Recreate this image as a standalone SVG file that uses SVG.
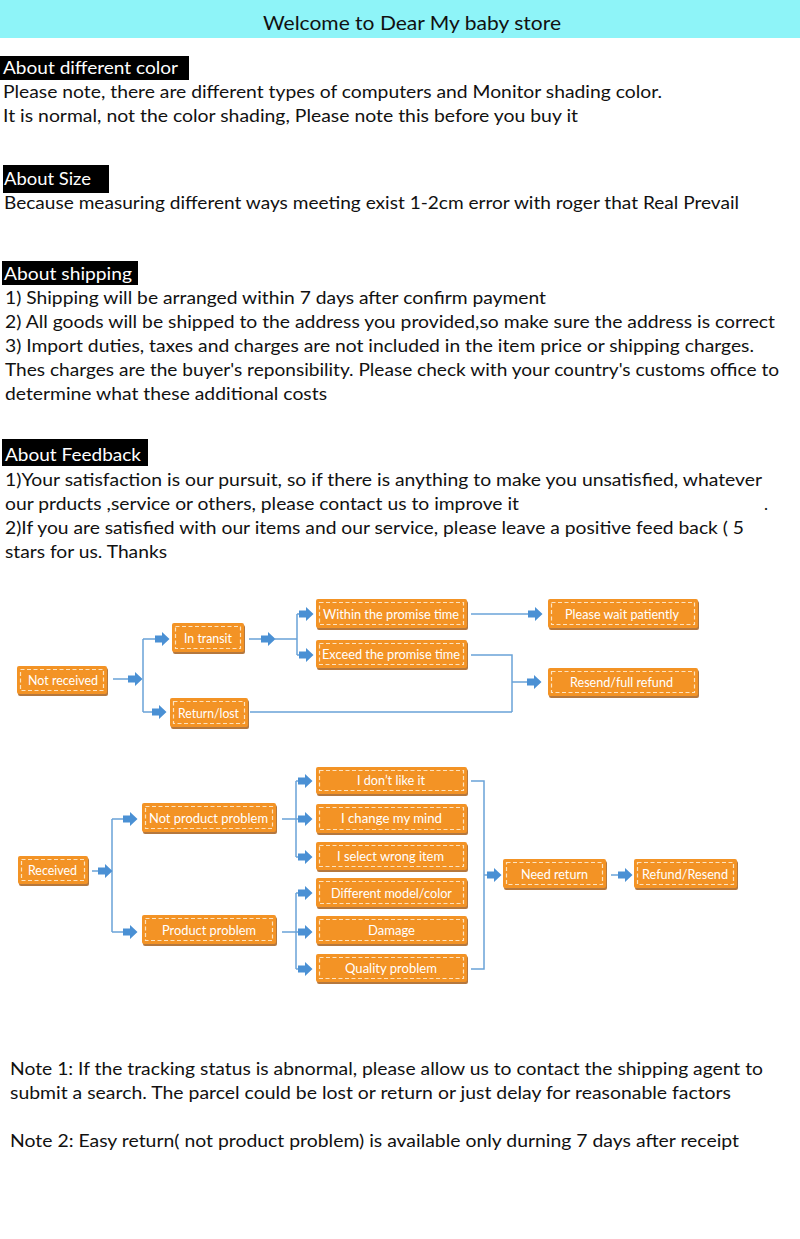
<svg xmlns="http://www.w3.org/2000/svg" xmlns:xlink="http://www.w3.org/1999/xlink" width="800" height="1239" viewBox="0 0 800 1239">
<style>
.body{font-family:"Lato","Liberation Sans",sans-serif;font-size:17px;fill:#111}
.lab{font-family:"Lato","Liberation Sans",sans-serif;font-size:17px;fill:#fff}
.labbox{fill:#000}
.shadow{fill:#a8601c;opacity:0.85}
.box{fill:#f39325}
.dash{fill:none;stroke:#fde3bf;stroke-width:1.2;stroke-dasharray:4 2.5}
.nt{font-family:"Lato","Liberation Sans",sans-serif;font-size:14px;fill:#fff;text-anchor:middle}
.ln{fill:none;stroke:#6aa3d8;stroke-width:1.5}
.ar{fill:#4a90d4}
</style>
<defs>
<path id="arr" d="M0,-3.5 H7 V-7 L14.5,0 L7,7 V3.5 H0 Z"/>
</defs>

<rect x="0" y="0" width="800" height="38" fill="#8ef4f8"/>
<text x="412" y="30" font-family="Lato,'Liberation Sans',sans-serif" font-size="20" fill="#111" text-anchor="middle" textLength="298" lengthAdjust="spacingAndGlyphs">Welcome to Dear My baby store</text>

<rect class="labbox" x="0" y="56" width="189" height="24"/>
<text class="lab" x="3" y="74" textLength="175" lengthAdjust="spacingAndGlyphs">About different color</text>
<text class="body" x="3" y="98" textLength="659" lengthAdjust="spacingAndGlyphs">Please note, there are different types of computers and Monitor shading color.</text>
<text class="body" x="3" y="122" textLength="575" lengthAdjust="spacingAndGlyphs">It is normal, not the color shading, Please note this before you buy it</text>

<rect class="labbox" x="3" y="165" width="106" height="28"/>
<text class="lab" x="4" y="185" textLength="87" lengthAdjust="spacingAndGlyphs">About Size</text>
<text class="body" x="4" y="209" textLength="735" lengthAdjust="spacingAndGlyphs">Because measuring different ways meeting exist 1-2cm error with roger that Real Prevail</text>

<rect class="labbox" x="2" y="261" width="136" height="24"/>
<text class="lab" x="4" y="280" textLength="128" lengthAdjust="spacingAndGlyphs">About shipping</text>
<text class="body" x="5" y="304" textLength="541" lengthAdjust="spacingAndGlyphs">1) Shipping will be arranged within 7 days after confirm payment</text>
<text class="body" x="5" y="328" textLength="770" lengthAdjust="spacingAndGlyphs">2) All goods will be shipped to the address you provided,so make sure the address is correct</text>
<text class="body" x="5" y="352" textLength="749" lengthAdjust="spacingAndGlyphs">3) Import duties, taxes and charges are not included in the item price or shipping charges.</text>
<text class="body" x="5" y="376" textLength="774" lengthAdjust="spacingAndGlyphs">Thes charges are the buyer's reponsibility. Please check with your country's customs office to</text>
<text class="body" x="5" y="400" textLength="322" lengthAdjust="spacingAndGlyphs">determine what these additional costs</text>

<rect class="labbox" x="2" y="439" width="146" height="27"/>
<text class="lab" x="5" y="461" textLength="136" lengthAdjust="spacingAndGlyphs">About Feedback</text>
<text class="body" x="5" y="486" textLength="757" lengthAdjust="spacingAndGlyphs">1)Your satisfaction is our pursuit, so if there is anything to make you unsatisfied, whatever</text>
<text class="body" x="5" y="510" textLength="514" lengthAdjust="spacingAndGlyphs">our prducts ,service or others, please contact us to improve it</text>
<text class="body" x="764" y="510">.</text>
<text class="body" x="5" y="534" textLength="739" lengthAdjust="spacingAndGlyphs">2)If you are satisfied with our items and our service, please leave a positive feed back ( 5</text>
<text class="body" x="5" y="558" textLength="162" lengthAdjust="spacingAndGlyphs">stars for us. Thanks</text>

<g id="connectors">
<path class="ln" d="M113,679 H130 M143,639 V712 M143,639 H156 M143,712 H153"/>
<path class="ln" d="M249,639 H263 M275,639 H297 M297,614 V655 M297,614 H300 M297,655 H300"/>
<path class="ln" d="M471,614 H529"/>
<path class="ln" d="M471,655 H512 V712 M250,712 H512 M512,682 H528"/>
<path class="ln" d="M92,871 H99 M112,819 V932 M112,819 H125 M112,932 H125"/>
<path class="ln" d="M282,819 H299 M296,781 V857 M296,781 H299 M296,857 H299"/>
<path class="ln" d="M282,932 H299 M296,893 V969 M296,893 H299 M296,969 H299"/>
<path class="ln" d="M471,781 H484 V969 H471 M484,875 H488"/>
<path class="ln" d="M611,875 H619"/>
<g class="ar">
<use xlink:href="#arr" x="128" y="679"/>
<use xlink:href="#arr" x="155" y="639"/>
<use xlink:href="#arr" x="152" y="712"/>
<use xlink:href="#arr" x="261" y="639"/>
<use xlink:href="#arr" x="299" y="614"/>
<use xlink:href="#arr" x="299" y="655"/>
<use xlink:href="#arr" x="528" y="614"/>
<use xlink:href="#arr" x="527" y="682"/>
<use xlink:href="#arr" x="98" y="871"/>
<use xlink:href="#arr" x="123" y="819"/>
<use xlink:href="#arr" x="123" y="932"/>
<use xlink:href="#arr" x="298" y="781"/>
<use xlink:href="#arr" x="298" y="819"/>
<use xlink:href="#arr" x="298" y="857"/>
<use xlink:href="#arr" x="298" y="893"/>
<use xlink:href="#arr" x="298" y="932"/>
<use xlink:href="#arr" x="298" y="969"/>
<use xlink:href="#arr" x="487" y="875"/>
<use xlink:href="#arr" x="618" y="875"/>
</g>
</g>

<g id="n-not-received"><rect class="shadow" x="18" y="668" width="90" height="28" rx="2"/><rect class="box" x="17" y="666" width="90" height="28" rx="2"/><rect class="dash" x="20.5" y="669.5" width="83" height="21"/><text class="nt" x="63" y="685" textLength="70" lengthAdjust="spacingAndGlyphs">Not received</text></g>
<g id="n-in-transit"><rect class="shadow" x="173" y="625" width="72" height="29" rx="2"/><rect class="box" x="172" y="623" width="72" height="29" rx="2"/><rect class="dash" x="175.5" y="626.5" width="65" height="22"/><text class="nt" x="208" y="643" textLength="48" lengthAdjust="spacingAndGlyphs">In transit</text></g>
<g id="n-return-lost"><rect class="shadow" x="171" y="700" width="78" height="29" rx="2"/><rect class="box" x="170" y="698" width="78" height="29" rx="2"/><rect class="dash" x="173.5" y="701.5" width="71" height="22"/><text class="nt" x="208.5" y="718" textLength="61" lengthAdjust="spacingAndGlyphs">Return/lost</text></g>
<g id="n-within"><rect class="shadow" x="317" y="601" width="151" height="29" rx="2"/><rect class="box" x="316" y="599" width="151" height="29" rx="2"/><rect class="dash" x="319.5" y="602.5" width="144" height="22"/><text class="nt" x="391" y="619" textLength="136" lengthAdjust="spacingAndGlyphs">Within the promise time</text></g>
<g id="n-exceed"><rect class="shadow" x="317" y="642" width="151" height="28" rx="2"/><rect class="box" x="316" y="640" width="151" height="28" rx="2"/><rect class="dash" x="319.5" y="643.5" width="144" height="21"/><text class="nt" x="391" y="659" textLength="138" lengthAdjust="spacingAndGlyphs">Exceed the promise time</text></g>
<g id="n-wait"><rect class="shadow" x="549" y="601" width="150" height="29" rx="2"/><rect class="box" x="548" y="599" width="150" height="29" rx="2"/><rect class="dash" x="551.5" y="602.5" width="143" height="22"/><text class="nt" x="622" y="619" textLength="114" lengthAdjust="spacingAndGlyphs">Please wait patiently</text></g>
<g id="n-resend"><rect class="shadow" x="549" y="670" width="150" height="28" rx="2"/><rect class="box" x="548" y="668" width="150" height="28" rx="2"/><rect class="dash" x="551.5" y="671.5" width="143" height="21"/><text class="nt" x="621.5" y="687" textLength="103" lengthAdjust="spacingAndGlyphs">Resend/full refund</text></g>

<g id="n-received"><rect class="shadow" x="19" y="858" width="70" height="28" rx="2"/><rect class="box" x="18" y="856" width="70" height="28" rx="2"/><rect class="dash" x="21.5" y="859.5" width="63" height="21"/><text class="nt" x="52.5" y="875" textLength="49" lengthAdjust="spacingAndGlyphs">Received</text></g>
<g id="n-not-product"><rect class="shadow" x="143" y="805" width="134" height="29" rx="2"/><rect class="box" x="142" y="803" width="134" height="29" rx="2"/><rect class="dash" x="145.5" y="806.5" width="127" height="22"/><text class="nt" x="208.5" y="823" textLength="119" lengthAdjust="spacingAndGlyphs">Not product problem</text></g>
<g id="n-product"><rect class="shadow" x="143" y="917" width="134" height="29" rx="2"/><rect class="box" x="142" y="915" width="134" height="29" rx="2"/><rect class="dash" x="145.5" y="918.5" width="127" height="22"/><text class="nt" x="209" y="935" textLength="94" lengthAdjust="spacingAndGlyphs">Product problem</text></g>
<g id="n-dont-like"><rect class="shadow" x="317" y="769" width="151" height="27" rx="2"/><rect class="box" x="316" y="767" width="151" height="27" rx="2"/><rect class="dash" x="319.5" y="770.5" width="144" height="20"/><text class="nt" x="391" y="785" textLength="68" lengthAdjust="spacingAndGlyphs">I don’t like it</text></g>
<g id="n-change"><rect class="shadow" x="317" y="806" width="151" height="29" rx="2"/><rect class="box" x="316" y="804" width="151" height="29" rx="2"/><rect class="dash" x="319.5" y="807.5" width="144" height="22"/><text class="nt" x="391.5" y="823" textLength="101" lengthAdjust="spacingAndGlyphs">I change my mind</text></g>
<g id="n-wrong"><rect class="shadow" x="317" y="844" width="151" height="28" rx="2"/><rect class="box" x="316" y="842" width="151" height="28" rx="2"/><rect class="dash" x="319.5" y="845.5" width="144" height="21"/><text class="nt" x="390.5" y="861" textLength="107" lengthAdjust="spacingAndGlyphs">I select wrong item</text></g>
<g id="n-different"><rect class="shadow" x="317" y="880" width="151" height="29" rx="2"/><rect class="box" x="316" y="878" width="151" height="29" rx="2"/><rect class="dash" x="319.5" y="881.5" width="144" height="22"/><text class="nt" x="391.5" y="898" textLength="121" lengthAdjust="spacingAndGlyphs">Different model/color</text></g>
<g id="n-damage"><rect class="shadow" x="317" y="918" width="151" height="28" rx="2"/><rect class="box" x="316" y="916" width="151" height="28" rx="2"/><rect class="dash" x="319.5" y="919.5" width="144" height="21"/><text class="nt" x="391.5" y="935" textLength="47" lengthAdjust="spacingAndGlyphs">Damage</text></g>
<g id="n-quality"><rect class="shadow" x="317" y="956" width="151" height="28" rx="2"/><rect class="box" x="316" y="954" width="151" height="28" rx="2"/><rect class="dash" x="319.5" y="957.5" width="144" height="21"/><text class="nt" x="391" y="973" textLength="92" lengthAdjust="spacingAndGlyphs">Quality problem</text></g>
<g id="n-need-return"><rect class="shadow" x="504" y="861" width="103" height="29" rx="2"/><rect class="box" x="503" y="859" width="103" height="29" rx="2"/><rect class="dash" x="506.5" y="862.5" width="96" height="22"/><text class="nt" x="554.5" y="879" textLength="67" lengthAdjust="spacingAndGlyphs">Need return</text></g>
<g id="n-refund"><rect class="shadow" x="635" y="861" width="103" height="29" rx="2"/><rect class="box" x="634" y="859" width="103" height="29" rx="2"/><rect class="dash" x="637.5" y="862.5" width="96" height="22"/><text class="nt" x="685" y="879" textLength="86" lengthAdjust="spacingAndGlyphs">Refund/Resend</text></g>

<text class="body" x="10" y="1075" textLength="753" lengthAdjust="spacingAndGlyphs">Note 1: If the tracking status is abnormal, please allow us to contact the shipping agent to</text>
<text class="body" x="10" y="1099" textLength="721" lengthAdjust="spacingAndGlyphs">submit a search. The parcel could be lost or return or just delay for reasonable factors</text>
<text class="body" x="10" y="1147" textLength="729" lengthAdjust="spacingAndGlyphs">Note 2: Easy return( not product problem) is available only durning 7 days after receipt</text>
</svg>
